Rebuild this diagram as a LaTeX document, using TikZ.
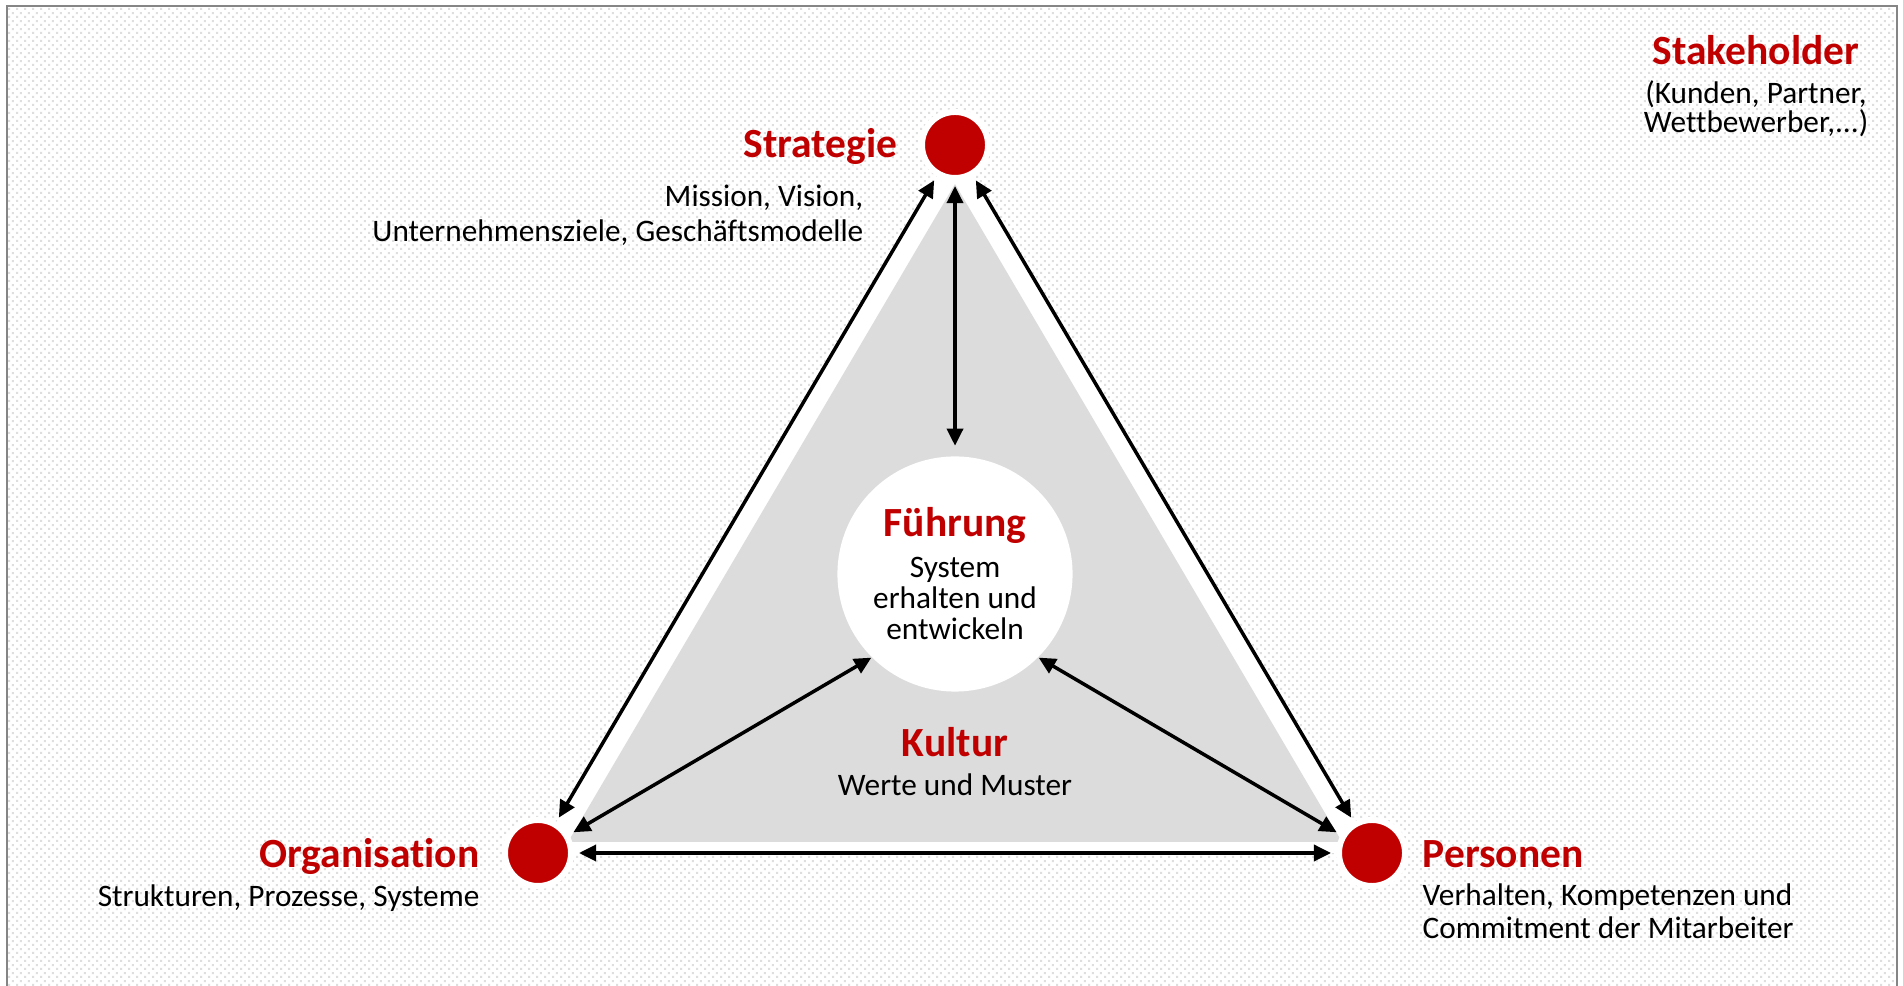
\documentclass[tikz,border=0pt]{standalone}
\usepackage{fontspec}
\setmainfont{Carlito}[Ligatures=NoCommon]
\usetikzlibrary{arrows.meta,patterns}

\definecolor{dunkelrot}{HTML}{C00000}
\definecolor{flaeche}{HTML}{DCDCDC}
\definecolor{rahmen}{HTML}{858585}

\pgfdeclarepatternformonly{punkte}{\pgfpointorigin}{\pgfqpoint{2.27pt}{2.27pt}}{\pgfqpoint{2.27pt}{2.27pt}}{
    \pgfpathrectangle{\pgfqpoint{0pt}{0pt}}{\pgfqpoint{0.57pt}{0.57pt}}
    \pgfpathrectangle{\pgfqpoint{1.135pt}{1.135pt}}{\pgfqpoint{0.57pt}{0.57pt}}
    \pgfusepath{fill}
}

\tikzset{
    Knoten/.style = {circle, fill=dunkelrot, draw=white, line width=0.06cm, minimum size=0.66cm, inner sep=0pt},
    Titel/.style = {text=dunkelrot, font=\fontsize{11.8}{13}\selectfont\bfseries, inner sep=0pt},
    Text/.style = {font=\fontsize{8.9}{9}\selectfont, inner sep=0pt},
    Pfeil/.style = {{Triangle[length=0.17cm,width=0.16cm]}-{Triangle[length=0.17cm,width=0.16cm]}, line width=0.035cm, shorten <=0.05cm, shorten >=0.05cm}
}

\begin{document}
\begin{tikzpicture}[x=0.01cm, y=-0.01cm]
    \useasboundingbox (0,0) rectangle (1903,986);
    \fill[white] (0,0) rectangle (1903,986);
    \fill[pattern=punkte, pattern color=black!13] (7,6) rectangle (1897,1000);
    \draw[rahmen, line width=0.02cm] (7,1000) -- (7,6) -- (1897,6) -- (1897,1000);

    \coordinate (S) at (955,145);
    \coordinate (O) at (538,853);
    \coordinate (P) at (1372,853);

    \fill[white] (S) -- (O) -- (P) -- cycle;
    \fill[flaeche] (955,184) -- (568,842) -- (1342,842) -- cycle;

    \node[Knoten] (strategie) at (S) {};
    \node[Knoten] (organisation) at (O) {};
    \node[Knoten] (personen) at (P) {};
    \node[circle, fill=white, minimum size=2.35cm, inner sep=0pt] (fuehrung) at (955,574) {};

    \draw[Pfeil] (strategie) -- (organisation);
    \draw[Pfeil] (strategie) -- (personen);
    \draw[Pfeil] (organisation) -- (personen);
    \draw[Pfeil, shorten >=0.1cm] (strategie) -- (fuehrung);
    \draw[Pfeil, shorten >=0pt] (organisation) -- (fuehrung.225);
    \draw[Pfeil, shorten >=0pt] (personen) -- (fuehrung.315);

    \node[Titel, anchor=base] (stakeT) at (1756,65) {Stakeholder};
    \node[Text, align=center, anchor=base, font=\fontsize{8.9}{8.5}\selectfont] (stakeB) at (1756,133) {(Kunden, Partner,\\Wettbewerber,...)};

    \node[Titel, anchor=base east] (strategieT) at (898,158) {Strategie};
    \node[Text, align=right, anchor=base east, font=\fontsize{8.9}{10.2}\selectfont] (strategieB) at (864,242) {Mission, Vision,\\Unternehmensziele, Geschäftsmodelle};

    \node[Titel, anchor=base] (fuehrungT) at (955,537) {Führung};
    \node[Text, align=center, anchor=base, font=\fontsize{8.9}{8.9}\selectfont] (fuehrungB) at (955,640) {System\\erhalten und\\entwickeln};

    \node[Titel, anchor=base] (kulturT) at (955,757) {Kultur};
    \node[Text, anchor=base] (kulturB) at (955,796) {Werte und Muster};

    \node[Titel, anchor=base east] (organisationT) at (480,868) {Organisation};
    \node[Text, anchor=base east] (organisationB) at (480,907) {Strukturen, Prozesse, Systeme};

    \node[Titel, anchor=base west] (personenT) at (1422,868) {Personen};
    \node[Text, align=left, anchor=base west, font=\fontsize{8.9}{9.6}\selectfont] (personenB) at (1422,939) {Verhalten, Kompetenzen und\\Commitment der Mitarbeiter};
\end{tikzpicture}
\end{document}
